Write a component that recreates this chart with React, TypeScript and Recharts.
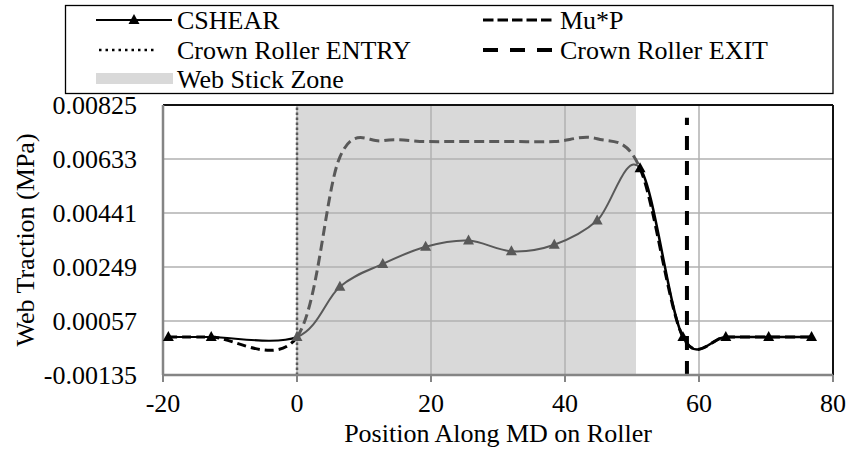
import { ComposedChart, Line, XAxis, YAxis, CartesianGrid, ReferenceArea, ReferenceLine } from 'recharts';

// positions along the machine direction (mm)
const positions = [-19.2, -12.8, 0, 6.4, 12.8, 19.2, 25.6, 32, 38.4, 44.8, 51.2, 57.6, 64, 70.4, 76.8];
// shear traction and friction-limited traction (MPa)
const cshear = [0.0, 0.0, 0.0, 0.00179, 0.0026, 0.00321, 0.00343, 0.00305, 0.00328, 0.00414, 0.006, 0.0, 0.0, 0.0, 0.0];
const muP = [0.0, 0.0, 0.0, 0.0064, 0.00698, 0.00695, 0.00695, 0.00695, 0.00695, 0.00705, 0.006, 0.0, 0.0, 0.0, 0.0];

const xTicks = [-20, 0, 20, 40, 60, 80];
const yTicks = [-0.00135, 0.00057, 0.00249, 0.00441, 0.00633, 0.00825];

// crown roller entry / exit markers
const entryX = [0, 0];
const entryY = [-0.00135, 0.00825];
const exitX = [58.2, 58.2];
const exitY = [-0.00135, 0.0078];
const stickZone = [0, 50.6];

// index ranges: before the stick zone, inside it, after it
const ZONE_START = 2;
const ZONE_END = 10;

const FONT = '"Liberation Serif", "Times New Roman", serif';
const GREY = '#595959';

const rows = positions.map((x, i) => ({ x, cshear: cshear[i], mup: muP[i] }));
const entryRows = entryX.map((x, i) => ({ x, entry: entryY[i] }));
const exitRows = exitX.map((x, i) => ({ x, exit: exitY[i] }));

// Catmull-Rom smoothing over all points, drawing only segments from..to
function smoothPart(from: number, to: number) {
  return (context: any) => {
    let pts: number[][] = [];
    return {
      areaStart() {},
      areaEnd() {},
      lineStart() {
        pts = [];
      },
      point(x: number, y: number) {
        pts.push([+x, +y]);
      },
      lineEnd() {
        const n = pts.length;
        const a = Math.max(0, from);
        const b = Math.min(n - 1, to);
        if (b <= a) return;
        context.moveTo(pts[a][0], pts[a][1]);
        for (let i = a; i < b; i++) {
          const p0 = pts[Math.max(i - 1, 0)];
          const p1 = pts[i];
          const p2 = pts[i + 1];
          const p3 = pts[Math.min(i + 2, n - 1)];
          context.bezierCurveTo(
            p1[0] + (p2[0] - p0[0]) / 6,
            p1[1] + (p2[1] - p0[1]) / 6,
            p2[0] - (p3[0] - p1[0]) / 6,
            p2[1] - (p3[1] - p1[1]) / 6,
            p2[0],
            p2[1],
          );
        }
      },
    };
  };
}

const triangle = (color: string, from: number, to: number) => (props: any) => {
  const { cx, cy, index } = props;
  const key = `tri-${color}-${from}-${index}`;
  if (index < from || index > to || cx == null || cy == null) return <g key={key} />;
  return <path key={key} d={`M${cx},${cy - 6}L${cx + 5.5},${cy + 4}L${cx - 5.5},${cy + 4}Z`} fill={color} />;
};

const tickStyle = { fill: '#000', fontSize: 26, fontFamily: FONT };

function LegendBox() {
  const text = { fontSize: 26, fontFamily: FONT, fill: '#000' };
  return (
    <svg width={849} height={453} style={{ position: 'absolute', left: 0, top: 0, pointerEvents: 'none' }}>
      <rect x={65.5} y={5.5} width={767.5} height={88} fill="#fff" stroke="#000" strokeWidth={1.3} />
      {/* CSHEAR */}
      <line x1={96} y1={20} x2={172} y2={20} stroke="#000" strokeWidth={2} />
      <path d="M134,14L139.5,24L128.5,24Z" fill="#000" />
      <text x={177} y={29} {...text}>CSHEAR</text>
      {/* Mu*P */}
      <line x1={483} y1={20} x2={553} y2={20} stroke="#000" strokeWidth={3} strokeDasharray="10.5 4" />
      <text x={560} y={29} {...text}>Mu*P</text>
      {/* entry */}
      <line x1={99} y1={50} x2={157} y2={50} stroke="#000" strokeWidth={2.5} strokeDasharray="2.5 4" />
      <text x={177} y={58.5} {...text}>Crown Roller ENTRY</text>
      {/* exit */}
      <line x1={483} y1={50} x2={553} y2={50} stroke="#000" strokeWidth={4} strokeDasharray="15 12" />
      <text x={560} y={58.5} {...text}>Crown Roller EXIT</text>
      {/* stick zone */}
      <rect x={96} y={73} width={77} height={11} fill="#d9d9d9" />
      <text x={177} y={88} {...text}>Web Stick Zone</text>

      <text x={498} y={442} textAnchor="middle" {...text}>Position Along MD on Roller</text>
      <text x={34} y={240} textAnchor="middle" transform="rotate(-90 34 240)" {...text}>Web Traction (MPa)</text>
    </svg>
  );
}

export default function App() {
  return (
    <div style={{ position: 'absolute', left: 0, top: 0, width: 849, height: 453, background: '#fff' }}>
      <ComposedChart width={849} height={453} data={rows} margin={{ top: 105, right: 16, bottom: 0, left: 0 }}>
        <ReferenceArea x1={stickZone[0]} x2={stickZone[1]} fill="#d9d9d9" fillOpacity={1} stroke="none" zIndex={-150} />
        <CartesianGrid stroke="#b0b0b0" strokeWidth={1.5} />
        <XAxis
          type="number"
          dataKey="x"
          domain={[-20, 80]}
          ticks={xTicks}
          interval={0}
          height={78}
          tickSize={7}
          tickMargin={12}
          tick={tickStyle}
          axisLine={{ stroke: '#858585', strokeWidth: 2.5 }}
          tickLine={{ stroke: '#858585', strokeWidth: 2 }}
        />
        <YAxis
          type="number"
          domain={[yTicks[0], yTicks[yTicks.length - 1]]}
          ticks={yTicks}
          interval={0}
          width={163}
          tickSize={0}
          tickMargin={26}
          tickLine={false}
          tick={tickStyle}
          tickFormatter={(v: number) => v.toFixed(5)}
          axisLine={{ stroke: '#858585', strokeWidth: 2.5 }}
        />
        <ReferenceLine y={yTicks[yTicks.length - 1]} stroke="#111" strokeWidth={2} />
        <ReferenceLine x={80} stroke="#111" strokeWidth={2} />

        <Line data={entryRows} dataKey="entry" type="linear" stroke={GREY} strokeWidth={2.5} strokeDasharray="2.5 2.5" dot={false} isAnimationActive={false} />

        <Line dataKey="cshear" type={smoothPart(0, ZONE_START)} stroke="#000" strokeWidth={2} dot={triangle('#000', 0, ZONE_START - 1)} isAnimationActive={false} />
        <Line dataKey="cshear" type={smoothPart(ZONE_START, ZONE_END)} stroke={GREY} strokeWidth={2} dot={triangle(GREY, ZONE_START, ZONE_END - 1)} isAnimationActive={false} />
        <Line dataKey="cshear" type={smoothPart(ZONE_END, positions.length - 1)} stroke="#000" strokeWidth={2.5} dot={triangle('#000', ZONE_END, positions.length - 1)} isAnimationActive={false} />

        <Line dataKey="mup" type={smoothPart(0, ZONE_START)} stroke="#000" strokeWidth={3} strokeDasharray="9 5" dot={false} isAnimationActive={false} />
        <Line dataKey="mup" type={smoothPart(ZONE_START, ZONE_END)} stroke={GREY} strokeWidth={3} strokeDasharray="10 5" dot={false} isAnimationActive={false} />
        <Line dataKey="mup" type={smoothPart(ZONE_END, positions.length - 1)} stroke="#000" strokeWidth={3} strokeDasharray="10 5" dot={false} isAnimationActive={false} />

        <Line data={exitRows} dataKey="exit" type="linear" stroke="#000" strokeWidth={4} strokeDasharray="14 11" dot={false} isAnimationActive={false} />
      </ComposedChart>
      <LegendBox />
    </div>
  );
}
